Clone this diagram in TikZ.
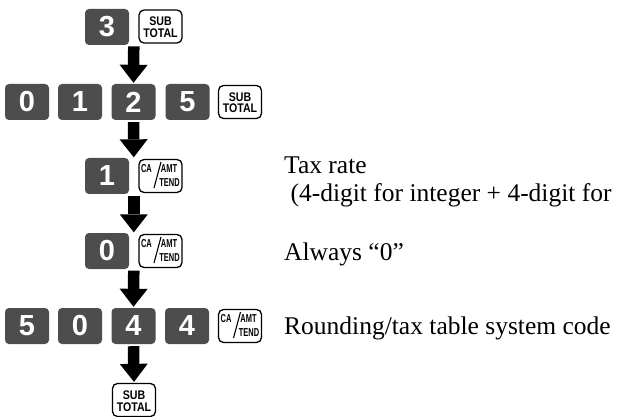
\documentclass[tikz,border=0pt]{standalone}
\usepackage{fontspec}
\setmainfont{Liberation Serif}
\newfontfamily\keyfont{Liberation Sans}
\newfontfamily\condfont{Liberation Sans}[FakeStretch=0.85]
\newfontfamily\narrowfont{Liberation Sans}[FakeStretch=0.65]
\usetikzlibrary{calc,arrows.meta}
\definecolor{keygray}{RGB}{77,77,77}
\newcommand\CAkey[2]{%
  \node[litkey] (#1) at (#2) {};
  \node[catext] (#1-ca) at ($(#1.center)+(-14,-7.5)$) {CA};
  \node[catext] (#1-amt) at ($(#1.center)+(8.5,-7.5)$) {AMT};
  \node[catext] (#1-tend) at ($(#1.center)+(9,6.5)$) {TEND};
  \draw[line width=1.1pt] ($(#1.center)+(-6.5,12)$) -- ($(#1.center)+(0.5,-14)$);
}
\newcommand\SUBkey[2]{%
  \node[litkey] (#1) at (#2) {};
  \node[subtext] (#1-sub) at ($(#1.center)+(0,-0.5)$) {SUB};
  \node[subtext] (#1-total) at ($(#1.center)+(0,11)$) {TOTAL};
}
\begin{document}
\begin{tikzpicture}[x=1pt,y=-1pt,
  darkkey/.style={fill=keygray, rounded corners=4pt, minimum width=44pt, minimum height=36pt, inner sep=0pt, text=white, font=\keyfont\bfseries\fontsize{29}{29}\selectfont},
  litkey/.style={draw=black, line width=1.3pt, fill=white, rounded corners=5pt, minimum width=43pt, minimum height=33pt, inner sep=0pt},
  subtext/.style={anchor=base, inner sep=0pt, font=\condfont\bfseries\fontsize{12.5}{12.5}\selectfont},
  catext/.style={font=\narrowfont\bfseries\fontsize{11.5}{11.5}\selectfont, inner sep=0pt},
  bigarrow/.style={line width=11.5pt, -{Triangle[length=18pt,width=28pt,line width=0pt]}},
  desc/.style={anchor=base west, inner sep=0pt, font=\fontsize{25.5}{28}\selectfont}]
\useasboundingbox (0,0) rectangle (627,417);

% row 1
\node[darkkey] (r1a) at (107,27) {3};
\SUBkey{r1s}{160.5,26.5}
% row 2
\node[darkkey] (r2a) at (27,102) {0};
\node[darkkey] (r2b) at (80,102) {1};
\node[darkkey] (r2c) at (133.5,102) {2};
\node[darkkey] (r2d) at (187.5,102) {5};
\SUBkey{r2s}{240,102}
% row 3
\node[darkkey] (r3a) at (107,176) {1};
\CAkey{r3s}{160.5,176}
% row 4
\node[darkkey] (r4a) at (107,251) {0};
\CAkey{r4s}{160.5,251}
% row 5
\node[darkkey] (r5a) at (27,326) {5};
\node[darkkey] (r5b) at (80,326) {0};
\node[darkkey] (r5c) at (133.5,326) {4};
\node[darkkey] (r5d) at (187,326) {4};
\CAkey{r5s}{240,326}
% row 6
\SUBkey{r6s}{134,400}

% arrows
\draw[bigarrow] ($(r1a.south east)!.5!(r1s.south west)+(0,2)$) -- ([yshift=1pt]r2c.north);
\draw[bigarrow] ([yshift=-2pt]r2c.south) -- ($(r3a.north east)!.5!(r3s.north west)+(0,-1)$);
\draw[bigarrow] ($(r3a.south east)!.5!(r3s.south west)+(0,2)$) -- ($(r4a.north east)!.5!(r4s.north west)+(0,-1)$);
\draw[bigarrow] ($(r4a.south east)!.5!(r4s.south west)+(0,2)$) -- ([yshift=1pt]r5c.north);
\draw[bigarrow] ([yshift=-2pt]r5c.south) -- ([yshift=1pt]r6s.north);

% descriptions
\node[desc] (t1) at (284,174) {Tax rate};
\node[desc] (t2) at (284,202) {\ (4-digit for integer + 4-digit for};
\node[desc] (t3) at (284,260) {Always “0”};
\node[desc] (t4) at (284,334) {Rounding/tax table system code};
\end{tikzpicture}
\end{document}
